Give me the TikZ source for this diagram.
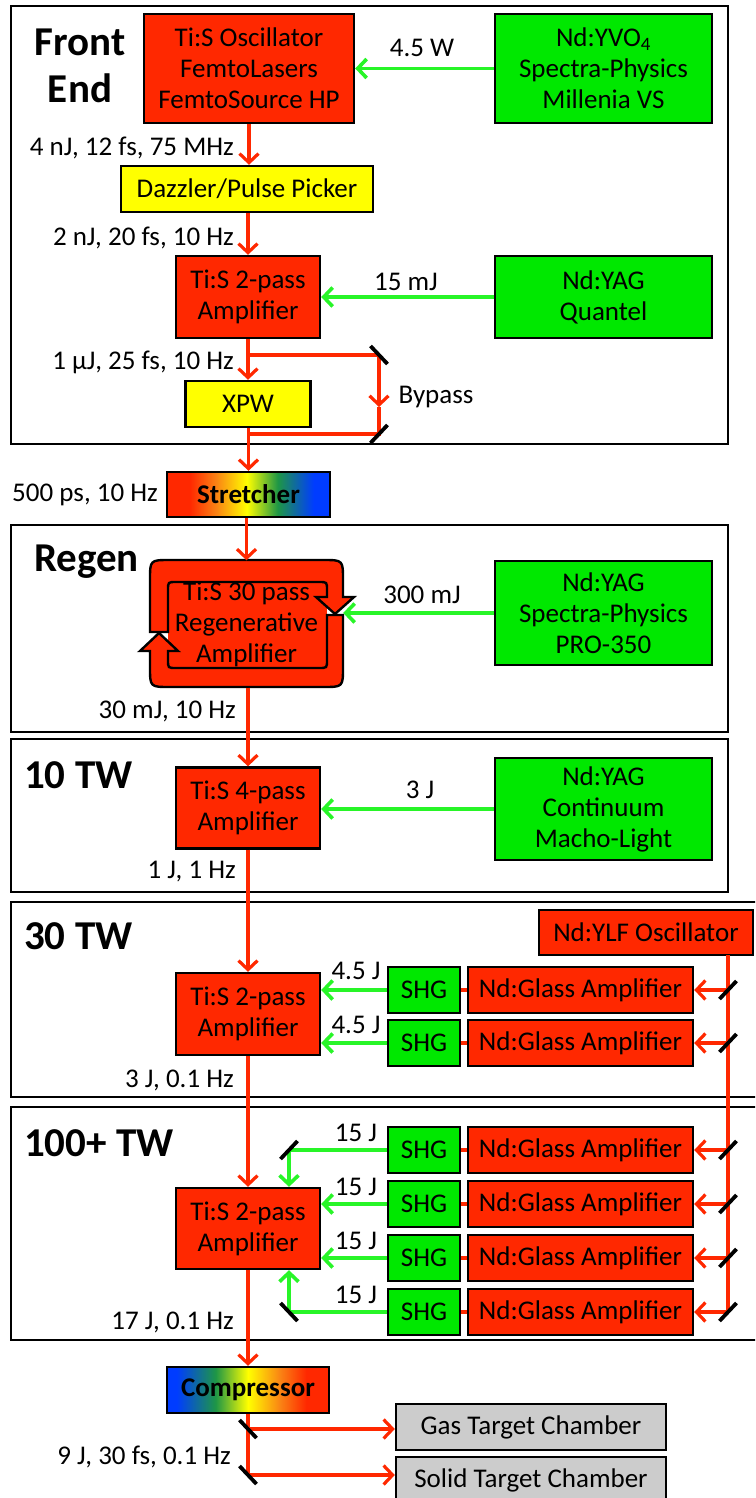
\documentclass[tikz,border=0pt]{standalone}
\usepackage{fontspec}
\setmainfont{Carlito}
\usetikzlibrary{arrows.meta}
\definecolor{lred}{RGB}{255,40,0}
\definecolor{lgreen}{RGB}{0,232,0}
\definecolor{agreen}{RGB}{40,245,40}
\definecolor{lyellow}{RGB}{255,255,0}
\definecolor{lgray}{RGB}{204,204,204}
\definecolor{sblue}{RGB}{0,60,255}
\definecolor{sgreen}{RGB}{30,150,70}
\definecolor{sorange}{RGB}{250,130,20}
\pgfdeclarehorizontalshading{stretchshade}{100bp}{color(0bp)=(lred); color(32bp)=(lred); color(40bp)=(sorange); color(49.5bp)=(lyellow); color(59bp)=(sgreen); color(70bp)=(sblue); color(100bp)=(sblue)}
\pgfdeclarehorizontalshading{compshade}{100bp}{color(0bp)=(sblue); color(28bp)=(sblue); color(40bp)=(sgreen); color(50bp)=(lyellow); color(60bp)=(sorange); color(68bp)=(lred); color(100bp)=(lred)}
\newcommand\labfont{\fontsize{27}{31}\selectfont}
\newcommand\ttlfont{\fontsize{41}{47}\selectfont\bfseries}
\newcommand\mirslash[1]{\draw[mirror] ([shift={(-8.5,9)}]#1) -- ([shift={(8.5,-9)}]#1);}
\newcommand\mirback[1]{\draw[mirror] ([shift={(-8.5,-9)}]#1) -- ([shift={(8.5,9)}]#1);}
\begin{document}
\begin{tikzpicture}[x=1pt,y=-1pt,
  box/.style={draw=black, line width=2.4pt, inner sep=1pt, align=center, font=\labfont, text=black},
  redbox/.style={box, fill=lred},
  greenbox/.style={box, fill=lgreen},
  yellowbox/.style={box, fill=lyellow},
  graybox/.style={box, fill=lgray},
  ray/.style={lred, line width=3.2pt},
  redarr/.style={ray, -{Straight Barb[length=9pt,width=19pt]}},
  pump/.style={agreen, line width=3.6pt},
  greenarr/.style={pump, -{Straight Barb[length=9pt,width=19pt]}},
  mirror/.style={black, line width=3.8pt},
  section/.style={draw=black, line width=2.4pt},
  ttl/.style={font=\ttlfont, inner sep=0pt, align=center},
  lab/.style={font=\labfont, inner sep=0pt}]
\useasboundingbox (0,0) rectangle (755,1498);
\clip (0,0) rectangle (755,1498);
\fill[white] (0,0) rectangle (755,1498);

% sections
\draw[section] (11,6) rectangle (728,444);
\draw[section] (11,525) rectangle (728,732);
\draw[section] (11,739) rectangle (728,892);
\draw[section] (11,902) rectangle (775,1097);
\draw[section] (11,1107) rectangle (775,1340);

\node[ttl] (tfe) at (80,65.5) {Front\\End};
\node[ttl, anchor=west] (trg) at (34,562) {Regen};
\node[ttl, anchor=west] (t10) at (24,775) {10 TW};
\node[ttl, anchor=west] (t30) at (24,936) {30 TW};
\node[ttl, anchor=west] (t100) at (24,1143) {100+ TW};

% front end
\node[redbox, minimum width=210pt, minimum height=109pt] (osc) at (249,68.5) {Ti:S Oscillator\\FemtoLasers\\FemtoSource HP};
\node[greenbox, minimum width=217pt, minimum height=109pt] (yvo) at (603.5,68.5) {Nd:YVO\textsubscript{4}\\Spectra-Physics\\Millenia VS};
\node[yellowbox, minimum width=252pt, minimum height=46pt] (dazz) at (247,189) {Dazzler/Pulse Picker};
\node[redbox, minimum width=144pt, minimum height=82pt] (amp1) at (248,297) {Ti:S 2-pass\\Amplifier};
\node[greenbox, minimum width=217pt, minimum height=82pt] (quan) at (603.5,297) {Nd:YAG\\Quantel};
\node[yellowbox, minimum width=125pt, minimum height=46pt] (xpw) at (248,404) {XPW};
\node[box, shade, shading=stretchshade, minimum width=163pt, minimum height=45pt, font=\labfont\bfseries] (str) at (248.5,494.5) {Stretcher};

\draw[greenarr] (yvo.west) -- (yvo.west -| osc.east);
\node[lab] (l45w) at (422,48) {4.5 W};
\draw[redarr] (osc.south) -- (osc.south |- dazz.north);
\node[lab, anchor=east] (l1) at (234,148) {4 nJ, 12 fs, 75 MHz};
\draw[redarr] (dazz.south -| amp1.north) -- (amp1.north);
\node[lab, anchor=east] (l2) at (234,238) {2 nJ, 20 fs, 10 Hz};
\draw[greenarr] (quan.west) -- (quan.west -| amp1.east);
\node[lab] (l15) at (406,282) {15 mJ};
\draw[redarr] (amp1.south) -- (amp1.south |- xpw.north);
\node[lab, anchor=east] (l3) at (234,362) {1 µJ, 25 fs, 10 Hz};
\coordinate (bpa) at (248,355);
\coordinate (bm1) at (379,355);
\coordinate (bmid) at (379,407);
\coordinate (bm2) at (379,434);
\coordinate (bpb) at (248,434);
\draw[ray] (bpa) -- (bm1);
\draw[redarr] (bm1) -- (bmid);
\draw[ray] (bmid) -- (bm2) -- (bpb);
\mirback{bm1}
\mirslash{bm2}
\node[lab] (lbp) at (436,397) {Bypass};
\draw[redarr] (xpw.south -| str.north) -- (str.north);
\node[lab, anchor=east] (l4) at (158,495) {500 ps, 10 Hz};

% regen
\fill[lred] (168,582) rectangle (327,668);
\filldraw[fill=lred, draw=black, line width=2.4pt, line join=miter]
  (150,632) -- (150,580) .. controls (150,560) .. (170,560) -- (323,560) .. controls (343,560) .. (343,580)
  -- (343,597) -- (354,597) -- (335,614) -- (316,597) -- (327,597) -- (327,590) .. controls (327,582) .. (319,582)
  -- (176,582) .. controls (168,582) .. (168,590) -- (168,632) -- cycle;
\filldraw[fill=lred, draw=black, line width=2.4pt, line join=miter]
  (343,615) -- (343,667) .. controls (343,687) .. (323,687) -- (170,687) .. controls (150,687) .. (150,667)
  -- (150,651) -- (140,651) -- (159,633) -- (178,651) -- (168,651) -- (168,660) .. controls (168,668) .. (176,668)
  -- (319,668) .. controls (327,668) .. (327,660) -- (327,615) -- cycle;
\node[align=center, font=\labfont, minimum width=193pt, minimum height=127pt, inner sep=0pt] (regen) at (246.5,624) {Ti:S 30 pass\\Regenerative\\Amplifier};
\node[greenbox, minimum width=217pt, minimum height=104pt] (pro) at (603.5,613) {Nd:YAG\\Spectra-Physics\\PRO-350};
\draw[redarr] (str.south -| regen.north) -- (regen.north);
\draw[greenarr] (pro.west) -- (pro.west -| regen.east);
\node[lab] (l300) at (422,595) {300 mJ};
\node[lab, anchor=east] (l5) at (236,711) {30 mJ, 10 Hz};

% 10 TW
\node[redbox, minimum width=144pt, minimum height=81pt] (amp2) at (248,808) {Ti:S 4-pass\\Amplifier};
\node[greenbox, minimum width=217pt, minimum height=102pt] (macho) at (603.5,809) {Nd:YAG\\Continuum\\Macho-Light};
\draw[redarr] (regen.south -| amp2.north) -- (amp2.north);
\draw[greenarr] (macho.west) -- (macho.west -| amp2.east);
\node[lab] (l3j) at (420,790) {3 J};
\node[lab, anchor=east] (l6) at (236,872) {1 J, 1 Hz};

% 30 TW
\node[redbox, minimum width=144pt, minimum height=82pt] (amp3) at (248,1014) {Ti:S 2-pass\\Amplifier};
\node[redbox, minimum width=214pt, minimum height=45pt] (ylf) at (646,932.5) {Nd:YLF Oscillator};
\draw[redarr] (amp2.south) -- (amp2.south |- amp3.north);
\node[lab, anchor=east] (l7) at (234,1080) {3 J, 0.1 Hz};

\node[greenbox, minimum width=72pt, minimum height=46pt] (shg1) at (424,990) {SHG};
\node[redbox, minimum width=225pt, minimum height=46pt] (gl1) at (580.5,990) {Nd:Glass Amplifier};
\node[greenbox, minimum width=72pt, minimum height=46pt] (shg2) at (424,1043) {SHG};
\node[redbox, minimum width=225pt, minimum height=46pt] (gl2) at (580.5,1043) {Nd:Glass Amplifier};
\draw[ray] (gl1.west) -- (shg1.east);
\draw[ray] (gl2.west) -- (shg2.east);
\draw[greenarr] (shg1.west) -- (shg1.west -| amp3.east);
\draw[greenarr] (shg2.west) -- (shg2.west -| amp3.east);
\node[lab] (l45a) at (356,971) {4.5 J};
\node[lab] (l45b) at (356,1025) {4.5 J};

% 100+ TW
\node[redbox, minimum width=144pt, minimum height=81pt] (amp4) at (248,1228.5) {Ti:S 2-pass\\Amplifier};
\draw[redarr] (amp3.south) -- (amp3.south |- amp4.north);
\node[lab, anchor=east] (l8) at (234,1322) {17 J, 0.1 Hz};
\foreach \i/\yy in {3/1150,4/1204,5/1258,6/1312}{
  \node[greenbox, minimum width=72pt, minimum height=46pt] (shg\i) at (424,\yy) {SHG};
  \node[redbox, minimum width=225pt, minimum height=46pt] (gl\i) at (580.5,\yy) {Nd:Glass Amplifier};
  \draw[ray] (gl\i.west) -- (shg\i.east);
  \node[lab] (l15j\i) at (356,\yy-17) {15 J};
}
\coordinate (gm1) at (289,1150);
\coordinate (gm2) at (289,1312);
\draw[pump] (shg3.west) -- (gm1);
\draw[greenarr] (gm1) -- (gm1 |- amp4.north);
\draw[greenarr] (shg4.west) -- (shg4.west -| amp4.east);
\draw[greenarr] (shg5.west) -- (shg5.west -| amp4.east);
\draw[pump] (shg6.west) -- (gm2);
\draw[greenarr] (gm2) -- (gm2 |- amp4.south);
\mirslash{gm1}
\mirback{gm2}

% YLF distribution
\coordinate (ylfo) at (728,955);
\foreach \i/\yy in {1/990,2/1043,3/1150,4/1204,5/1258,6/1312}{
  \coordinate (rm\i) at (728,\yy);
}
\draw[ray] (ylfo) -- (rm6);
\foreach \i in {1,...,6}{
  \draw[redarr] (rm\i) -- (rm\i -| gl\i.east);
  \mirslash{rm\i}
}

% compressor and targets
\node[box, shade, shading=compshade, minimum width=162pt, minimum height=46pt, font=\labfont\bfseries] (comp) at (248,1390) {Compressor};
\draw[redarr] (amp4.south) -- (amp4.south |- comp.north);
\node[graybox, minimum width=270pt, minimum height=46pt] (gas) at (531,1427) {Gas Target Chamber};
\node[graybox, minimum width=270pt, minimum height=46pt] (solid) at (531,1480) {Solid Target Chamber};
\coordinate (cm1) at (248,1429);
\coordinate (cm2) at (248,1475);
\draw[ray] (comp.south) -- (cm2);
\draw[redarr] (cm1) -- (cm1 -| gas.west);
\draw[redarr] (cm2) -- (cm2 -| solid.west);
\mirback{cm1}
\mirback{cm2}
\node[lab, anchor=east] (l9) at (231,1457) {9 J, 30 fs, 0.1 Hz};
\end{tikzpicture}
\end{document}
